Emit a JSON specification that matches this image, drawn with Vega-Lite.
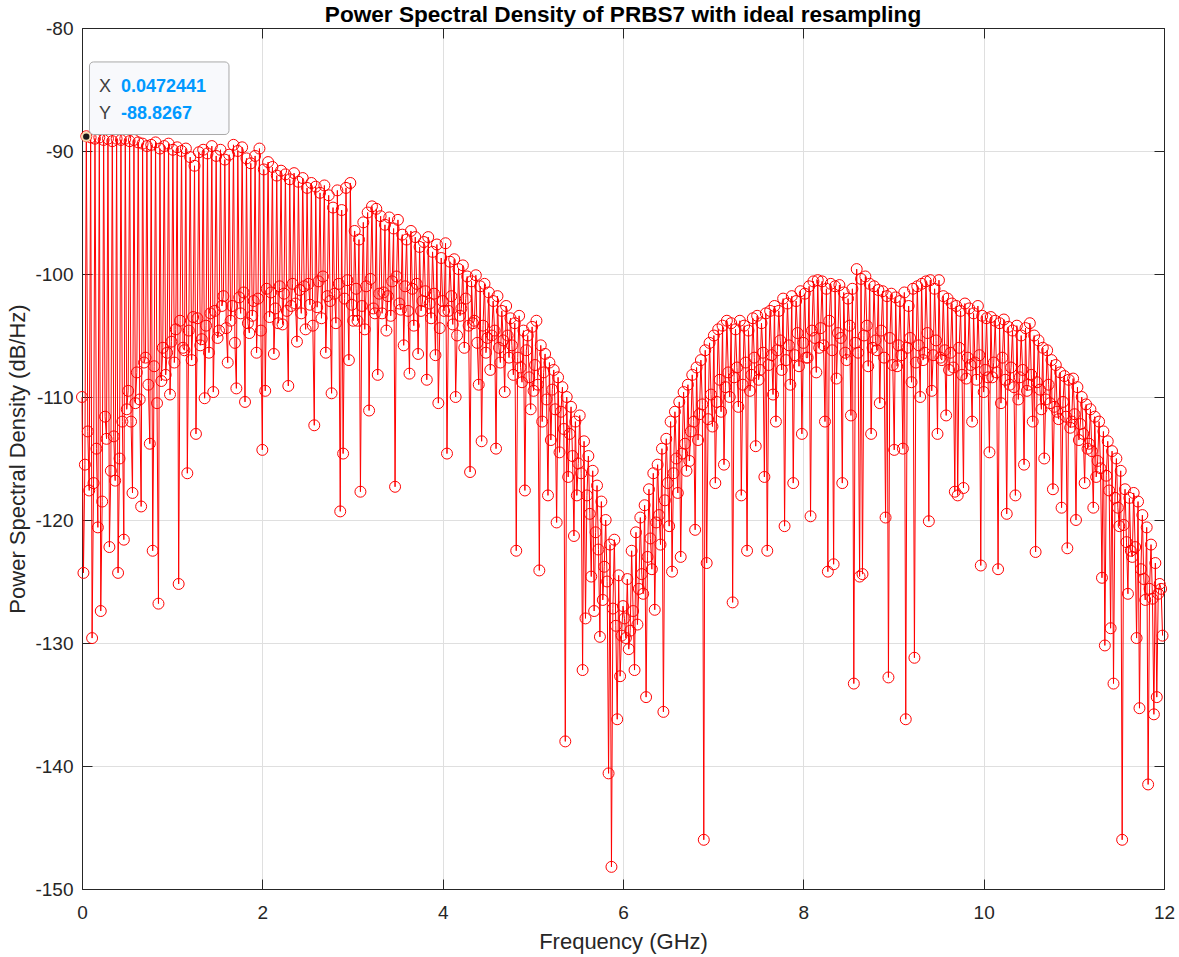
{
  "$schema": "https://vega.github.io/schema/vega-lite/v6.json",
  "width": 1082,
  "height": 861,
  "autosize": {"type": "none"},
  "padding": {"left": 82, "top": 28, "right": 15, "bottom": 68},
  "background": "white",
  "title": {
    "text": "Power Spectral Density of PRBS7 with ideal resampling",
    "font": "Liberation Sans",
    "fontSize": 22.6,
    "fontWeight": "bold",
    "color": "#000000",
    "anchor": "middle",
    "baseline": "alphabetic",
    "offset": -26
  },
  "config": {
    "view": {"stroke": "#262626", "strokeWidth": 1},
    "axis": {
      "labelFont": "Liberation Sans",
      "titleFont": "Liberation Sans",
      "labelFontSize": 19,
      "titleFontSize": 22,
      "titleFontWeight": "normal",
      "labelColor": "#262626",
      "titleColor": "#262626",
      "domainColor": "#262626",
      "tickColor": "#262626",
      "gridColor": "#dfdfdf",
      "gridOpacity": 1,
      "tickWidth": 1,
      "domainWidth": 1,
      "labelFlush": false,
      "labelOverlap": false,
      "labelBound": false
    }
  },
  "datasets": {
    "psd": [
      {"f":0,"p":-110.0},{"f":0.016,"p":-124.3},{"f":0.032,"p":-115.5},
      {"f":0.048,"p":-88.8},{"f":0.064,"p":-112.8},{"f":0.08,"p":-117.6},
      {"f":0.096,"p":-88.9},{"f":0.112,"p":-129.6},{"f":0.128,"p":-117.0},
      {"f":0.144,"p":-89.0},{"f":0.16,"p":-114.2},{"f":0.176,"p":-120.6},
      {"f":0.192,"p":-88.9},{"f":0.208,"p":-127.4},{"f":0.224,"p":-118.5},
      {"f":0.24,"p":-89.1},{"f":0.256,"p":-111.6},{"f":0.272,"p":-113.4},
      {"f":0.288,"p":-89.0},{"f":0.304,"p":-122.2},{"f":0.32,"p":-116.0},
      {"f":0.336,"p":-89.2},{"f":0.352,"p":-113.2},{"f":0.368,"p":-116.8},
      {"f":0.384,"p":-89.0},{"f":0.4,"p":-124.3},{"f":0.416,"p":-115.0},
      {"f":0.432,"p":-89.1},{"f":0.448,"p":-112.0},{"f":0.464,"p":-121.6},
      {"f":0.48,"p":-89.0},{"f":0.496,"p":-111.0},{"f":0.512,"p":-109.5},
      {"f":0.528,"p":-89.2},{"f":0.544,"p":-112.0},{"f":0.56,"p":-117.8},
      {"f":0.576,"p":-89.1},{"f":0.592,"p":-110.5},{"f":0.608,"p":-108.0},
      {"f":0.624,"p":-89.3},{"f":0.64,"p":-110.2},{"f":0.656,"p":-118.9},
      {"f":0.672,"p":-89.4},{"f":0.688,"p":-107.2},{"f":0.704,"p":-106.8},
      {"f":0.72,"p":-89.6},{"f":0.736,"p":-109.0},{"f":0.752,"p":-113.8},
      {"f":0.768,"p":-89.5},{"f":0.784,"p":-122.5},{"f":0.8,"p":-107.5},
      {"f":0.816,"p":-89.3},{"f":0.832,"p":-110.5},{"f":0.848,"p":-126.8},
      {"f":0.864,"p":-89.8},{"f":0.88,"p":-108.7},{"f":0.896,"p":-106.0},
      {"f":0.912,"p":-89.6},{"f":0.928,"p":-108.2},{"f":0.944,"p":-106.4},
      {"f":0.96,"p":-89.4},{"f":0.976,"p":-109.8},{"f":0.992,"p":-105.5},
      {"f":1.008,"p":-89.9},{"f":1.024,"p":-107.2},{"f":1.04,"p":-104.5},
      {"f":1.056,"p":-89.7},{"f":1.072,"p":-125.2},{"f":1.088,"p":-103.8},
      {"f":1.104,"p":-90.0},{"f":1.12,"p":-106.0},{"f":1.136,"p":-106.2},
      {"f":1.152,"p":-89.8},{"f":1.168,"p":-116.2},{"f":1.184,"p":-104.6},
      {"f":1.2,"p":-90.5},{"f":1.216,"p":-107.0},{"f":1.232,"p":-103.5},
      {"f":1.248,"p":-91.2},{"f":1.264,"p":-113.0},{"f":1.28,"p":-103.6},
      {"f":1.296,"p":-90.1},{"f":1.312,"p":-105.8},{"f":1.328,"p":-105.3},
      {"f":1.344,"p":-89.9},{"f":1.36,"p":-110.1},{"f":1.376,"p":-104.2},
      {"f":1.392,"p":-90.2},{"f":1.408,"p":-106.4},{"f":1.424,"p":-103.2},
      {"f":1.44,"p":-89.6},{"f":1.456,"p":-109.6},{"f":1.472,"p":-103.0},
      {"f":1.488,"p":-90.4},{"f":1.504,"p":-105.2},{"f":1.52,"p":-104.6},
      {"f":1.536,"p":-89.9},{"f":1.552,"p":-102.6},{"f":1.568,"p":-101.8},
      {"f":1.584,"p":-90.7},{"f":1.6,"p":-104.4},{"f":1.616,"p":-107.2},
      {"f":1.632,"p":-90.3},{"f":1.648,"p":-103.8},{"f":1.664,"p":-102.6},
      {"f":1.68,"p":-89.5},{"f":1.696,"p":-105.6},{"f":1.712,"p":-109.3},
      {"f":1.728,"p":-90.0},{"f":1.744,"p":-101.9},{"f":1.76,"p":-103.2},
      {"f":1.776,"p":-89.7},{"f":1.792,"p":-101.5},{"f":1.808,"p":-110.4},
      {"f":1.824,"p":-90.6},{"f":1.84,"p":-104.0},{"f":1.856,"p":-104.8},
      {"f":1.872,"p":-91.0},{"f":1.888,"p":-103.4},{"f":1.904,"p":-102.2},
      {"f":1.92,"p":-90.4},{"f":1.936,"p":-106.4},{"f":1.952,"p":-102.0},
      {"f":1.968,"p":-89.8},{"f":1.984,"p":-104.6},{"f":2.0,"p":-114.3},
      {"f":2.016,"p":-91.5},{"f":2.032,"p":-109.5},{"f":2.048,"p":-101.2},
      {"f":2.064,"p":-90.9},{"f":2.08,"p":-103.5},{"f":2.096,"p":-101.5},
      {"f":2.112,"p":-91.3},{"f":2.128,"p":-106.5},{"f":2.144,"p":-102.8},
      {"f":2.16,"p":-92.0},{"f":2.176,"p":-104.0},{"f":2.192,"p":-101.0},
      {"f":2.208,"p":-91.6},{"f":2.224,"p":-104.1},{"f":2.24,"p":-101.6},
      {"f":2.256,"p":-91.9},{"f":2.272,"p":-103.0},{"f":2.288,"p":-109.1},
      {"f":2.304,"p":-92.3},{"f":2.32,"p":-102.6},{"f":2.336,"p":-100.8},
      {"f":2.352,"p":-91.8},{"f":2.368,"p":-102.4},{"f":2.384,"p":-105.5},
      {"f":2.4,"p":-92.5},{"f":2.416,"p":-101.3},{"f":2.432,"p":-103.2},
      {"f":2.448,"p":-92.2},{"f":2.464,"p":-101.0},{"f":2.48,"p":-104.5},
      {"f":2.496,"p":-93.0},{"f":2.512,"p":-100.8},{"f":2.528,"p":-102.5},
      {"f":2.544,"p":-92.6},{"f":2.56,"p":-104.2},{"f":2.576,"p":-112.3},
      {"f":2.592,"p":-92.9},{"f":2.608,"p":-102.7},{"f":2.624,"p":-100.6},
      {"f":2.64,"p":-93.4},{"f":2.656,"p":-103.6},{"f":2.672,"p":-100.2},
      {"f":2.688,"p":-92.8},{"f":2.704,"p":-106.4},{"f":2.72,"p":-101.8},
      {"f":2.736,"p":-93.6},{"f":2.752,"p":-102.2},{"f":2.768,"p":-109.7},
      {"f":2.784,"p":-94.6},{"f":2.8,"p":-101.6},{"f":2.816,"p":-104.0},
      {"f":2.832,"p":-93.2},{"f":2.848,"p":-100.8},{"f":2.864,"p":-119.3},
      {"f":2.88,"p":-94.8},{"f":2.896,"p":-114.6},{"f":2.912,"p":-102.0},
      {"f":2.928,"p":-93.0},{"f":2.944,"p":-100.5},{"f":2.96,"p":-107.0},
      {"f":2.976,"p":-92.6},{"f":2.992,"p":-102.5},{"f":3.008,"p":-103.8},
      {"f":3.024,"p":-96.5},{"f":3.04,"p":-101.2},{"f":3.056,"p":-103.8},
      {"f":3.072,"p":-97.2},{"f":3.088,"p":-117.7},{"f":3.104,"p":-102.6},
      {"f":3.12,"p":-95.8},{"f":3.136,"p":-104.5},{"f":3.152,"p":-101.0},
      {"f":3.168,"p":-95.0},{"f":3.184,"p":-111.1},{"f":3.2,"p":-100.4},
      {"f":3.216,"p":-94.5},{"f":3.232,"p":-102.8},{"f":3.248,"p":-103.2},
      {"f":3.264,"p":-94.7},{"f":3.28,"p":-108.2},{"f":3.296,"p":-101.6},
      {"f":3.312,"p":-95.3},{"f":3.328,"p":-103.2},{"f":3.344,"p":-101.5},
      {"f":3.36,"p":-96.0},{"f":3.376,"p":-104.6},{"f":3.392,"p":-101.8},
      {"f":3.408,"p":-95.4},{"f":3.424,"p":-103.4},{"f":3.44,"p":-100.6},
      {"f":3.456,"p":-96.3},{"f":3.472,"p":-117.3},{"f":3.488,"p":-100.2},
      {"f":3.504,"p":-95.6},{"f":3.52,"p":-102.4},{"f":3.536,"p":-102.9},
      {"f":3.552,"p":-96.8},{"f":3.568,"p":-105.8},{"f":3.584,"p":-101.0},
      {"f":3.6,"p":-97.2},{"f":3.616,"p":-103.0},{"f":3.632,"p":-108.1},
      {"f":3.648,"p":-96.5},{"f":3.664,"p":-101.2},{"f":3.68,"p":-104.2},
      {"f":3.696,"p":-97.0},{"f":3.712,"p":-100.8},{"f":3.728,"p":-106.5},
      {"f":3.744,"p":-97.8},{"f":3.76,"p":-103.0},{"f":3.776,"p":-102.2},
      {"f":3.792,"p":-97.4},{"f":3.808,"p":-101.4},{"f":3.824,"p":-108.6},
      {"f":3.84,"p":-97.0},{"f":3.856,"p":-102.4},{"f":3.872,"p":-103.6},
      {"f":3.888,"p":-98.2},{"f":3.904,"p":-101.6},{"f":3.92,"p":-106.6},
      {"f":3.936,"p":-97.6},{"f":3.952,"p":-110.5},{"f":3.968,"p":-104.4},
      {"f":3.984,"p":-98.7},{"f":4.0,"p":-102.2},{"f":4.016,"p":-103.0},
      {"f":4.032,"p":-97.5},{"f":4.048,"p":-114.6},{"f":4.064,"p":-103.0},
      {"f":4.08,"p":-99.0},{"f":4.096,"p":-101.8},{"f":4.112,"p":-104.1},
      {"f":4.128,"p":-98.8},{"f":4.144,"p":-110.0},{"f":4.16,"p":-105.0},
      {"f":4.176,"p":-99.6},{"f":4.192,"p":-103.4},{"f":4.208,"p":-102.8},
      {"f":4.224,"p":-99.3},{"f":4.24,"p":-106.0},{"f":4.256,"p":-102.0},
      {"f":4.272,"p":-100.2},{"f":4.288,"p":-104.2},{"f":4.304,"p":-116.1},
      {"f":4.32,"p":-100.6},{"f":4.336,"p":-104.0},{"f":4.352,"p":-103.8},
      {"f":4.368,"p":-100.1},{"f":4.384,"p":-105.6},{"f":4.4,"p":-109.0},
      {"f":4.416,"p":-101.0},{"f":4.432,"p":-113.6},{"f":4.448,"p":-104.2},
      {"f":4.464,"p":-100.8},{"f":4.48,"p":-106.4},{"f":4.496,"p":-105.2},
      {"f":4.512,"p":-101.5},{"f":4.528,"p":-107.8},{"f":4.544,"p":-105.0},
      {"f":4.56,"p":-102.2},{"f":4.576,"p":-104.6},{"f":4.592,"p":-114.2},
      {"f":4.608,"p":-101.8},{"f":4.624,"p":-106.0},{"f":4.64,"p":-107.2},
      {"f":4.656,"p":-103.0},{"f":4.672,"p":-105.4},{"f":4.688,"p":-109.6},
      {"f":4.704,"p":-102.6},{"f":4.72,"p":-105.0},{"f":4.736,"p":-106.8},
      {"f":4.752,"p":-103.6},{"f":4.768,"p":-105.8},{"f":4.784,"p":-108.2},
      {"f":4.8,"p":-104.0},{"f":4.816,"p":-122.5},{"f":4.832,"p":-106.8},
      {"f":4.848,"p":-103.4},{"f":4.864,"p":-107.6},{"f":4.88,"p":-108.8},
      {"f":4.896,"p":-104.6},{"f":4.912,"p":-117.6},{"f":4.928,"p":-106.2},
      {"f":4.944,"p":-105.0},{"f":4.96,"p":-108.4},{"f":4.976,"p":-111.0},
      {"f":4.992,"p":-104.3},{"f":5.008,"p":-109.5},{"f":5.024,"p":-107.4},
      {"f":5.04,"p":-103.8},{"f":5.056,"p":-109.0},{"f":5.072,"p":-124.1},
      {"f":5.088,"p":-105.8},{"f":5.104,"p":-112.0},{"f":5.12,"p":-108.0},
      {"f":5.136,"p":-106.5},{"f":5.152,"p":-110.2},{"f":5.168,"p":-118.0},
      {"f":5.184,"p":-107.2},{"f":5.2,"p":-113.5},{"f":5.216,"p":-109.4},
      {"f":5.232,"p":-107.8},{"f":5.248,"p":-111.0},{"f":5.264,"p":-120.2},
      {"f":5.28,"p":-108.4},{"f":5.296,"p":-114.5},{"f":5.312,"p":-111.2},
      {"f":5.328,"p":-109.2},{"f":5.344,"p":-112.6},{"f":5.36,"p":-138.0},
      {"f":5.376,"p":-110.0},{"f":5.392,"p":-116.5},{"f":5.408,"p":-113.0},
      {"f":5.424,"p":-110.8},{"f":5.44,"p":-114.8},{"f":5.456,"p":-121.3},
      {"f":5.472,"p":-112.0},{"f":5.488,"p":-118.0},{"f":5.504,"p":-115.4},
      {"f":5.52,"p":-111.5},{"f":5.536,"p":-116.2},{"f":5.552,"p":-132.2},
      {"f":5.568,"p":-113.6},{"f":5.584,"p":-128.0},{"f":5.6,"p":-118.0},
      {"f":5.616,"p":-114.8},{"f":5.632,"p":-119.5},{"f":5.648,"p":-124.6},
      {"f":5.664,"p":-116.0},{"f":5.68,"p":-127.4},{"f":5.696,"p":-121.0},
      {"f":5.712,"p":-117.2},{"f":5.728,"p":-122.4},{"f":5.744,"p":-129.5},
      {"f":5.76,"p":-118.5},{"f":5.776,"p":-126.5},{"f":5.792,"p":-123.8},
      {"f":5.808,"p":-120.0},{"f":5.824,"p":-125.0},{"f":5.84,"p":-140.6},
      {"f":5.856,"p":-122.0},{"f":5.872,"p":-148.2},{"f":5.888,"p":-127.2},
      {"f":5.904,"p":-121.6},{"f":5.92,"p":-128.6},{"f":5.936,"p":-136.2},
      {"f":5.952,"p":-124.5},{"f":5.968,"p":-132.7},{"f":5.984,"p":-129.4},
      {"f":6.0,"p":-127.0},{"f":6.016,"p":-128.0},{"f":6.032,"p":-129.6},
      {"f":6.048,"p":-124.8},{"f":6.064,"p":-130.5},{"f":6.08,"p":-129.0},
      {"f":6.096,"p":-122.5},{"f":6.112,"p":-127.4},{"f":6.128,"p":-132.2},
      {"f":6.144,"p":-121.0},{"f":6.16,"p":-128.5},{"f":6.176,"p":-125.6},
      {"f":6.192,"p":-119.8},{"f":6.208,"p":-124.4},{"f":6.224,"p":-126.0},
      {"f":6.24,"p":-118.8},{"f":6.256,"p":-134.4},{"f":6.272,"p":-123.0},
      {"f":6.288,"p":-117.5},{"f":6.304,"p":-121.5},{"f":6.32,"p":-124.0},
      {"f":6.336,"p":-116.2},{"f":6.352,"p":-127.3},{"f":6.368,"p":-120.2},
      {"f":6.384,"p":-115.5},{"f":6.4,"p":-119.6},{"f":6.416,"p":-122.0},
      {"f":6.432,"p":-114.2},{"f":6.448,"p":-135.6},{"f":6.464,"p":-118.4},
      {"f":6.48,"p":-113.4},{"f":6.496,"p":-117.0},{"f":6.512,"p":-120.5},
      {"f":6.528,"p":-112.0},{"f":6.544,"p":-124.2},{"f":6.56,"p":-116.2},
      {"f":6.576,"p":-111.2},{"f":6.592,"p":-115.0},{"f":6.608,"p":-117.8},
      {"f":6.624,"p":-110.4},{"f":6.64,"p":-123.0},{"f":6.656,"p":-114.6},
      {"f":6.672,"p":-109.6},{"f":6.688,"p":-113.8},{"f":6.704,"p":-116.0},
      {"f":6.72,"p":-109.0},{"f":6.736,"p":-115.2},{"f":6.752,"p":-112.8},
      {"f":6.768,"p":-108.2},{"f":6.784,"p":-112.0},{"f":6.8,"p":-120.8},
      {"f":6.816,"p":-107.6},{"f":6.832,"p":-113.5},{"f":6.848,"p":-111.4},
      {"f":6.864,"p":-107.0},{"f":6.88,"p":-110.6},{"f":6.896,"p":-146.0},
      {"f":6.912,"p":-106.2},{"f":6.928,"p":-123.5},{"f":6.944,"p":-111.8},
      {"f":6.96,"p":-105.6},{"f":6.976,"p":-109.8},{"f":6.992,"p":-112.4},
      {"f":7.008,"p":-105.0},{"f":7.024,"p":-117.0},{"f":7.04,"p":-110.4},
      {"f":7.056,"p":-104.5},{"f":7.072,"p":-108.6},{"f":7.088,"p":-111.2},
      {"f":7.104,"p":-104.2},{"f":7.12,"p":-115.5},{"f":7.136,"p":-109.2},
      {"f":7.152,"p":-103.8},{"f":7.168,"p":-108.0},{"f":7.184,"p":-110.0},
      {"f":7.2,"p":-104.0},{"f":7.216,"p":-126.7},{"f":7.232,"p":-108.4},
      {"f":7.248,"p":-104.5},{"f":7.264,"p":-107.6},{"f":7.28,"p":-110.8},
      {"f":7.296,"p":-103.8},{"f":7.312,"p":-118.0},{"f":7.328,"p":-109.0},
      {"f":7.344,"p":-104.2},{"f":7.36,"p":-107.2},{"f":7.376,"p":-122.5},
      {"f":7.392,"p":-104.6},{"f":7.408,"p":-109.5},{"f":7.424,"p":-108.2},
      {"f":7.44,"p":-103.6},{"f":7.456,"p":-106.8},{"f":7.472,"p":-114.0},
      {"f":7.488,"p":-103.4},{"f":7.504,"p":-108.6},{"f":7.52,"p":-107.8},
      {"f":7.536,"p":-104.0},{"f":7.552,"p":-106.4},{"f":7.568,"p":-116.5},
      {"f":7.584,"p":-103.2},{"f":7.6,"p":-122.5},{"f":7.616,"p":-107.4},
      {"f":7.632,"p":-103.0},{"f":7.648,"p":-106.6},{"f":7.664,"p":-109.8},
      {"f":7.68,"p":-102.6},{"f":7.696,"p":-112.0},{"f":7.712,"p":-106.2},
      {"f":7.728,"p":-103.0},{"f":7.744,"p":-105.4},{"f":7.76,"p":-107.8},
      {"f":7.776,"p":-102.0},{"f":7.792,"p":-120.5},{"f":7.808,"p":-107.0},
      {"f":7.824,"p":-102.4},{"f":7.84,"p":-105.8},{"f":7.856,"p":-109.0},
      {"f":7.872,"p":-101.8},{"f":7.888,"p":-117.0},{"f":7.904,"p":-106.6},
      {"f":7.92,"p":-102.2},{"f":7.936,"p":-104.8},{"f":7.952,"p":-107.5},
      {"f":7.968,"p":-101.4},{"f":7.984,"p":-113.0},{"f":8.0,"p":-105.6},
      {"f":8.016,"p":-101.6},{"f":8.032,"p":-106.8},{"f":8.048,"p":-106.8},
      {"f":8.064,"p":-101.0},{"f":8.08,"p":-119.7},{"f":8.096,"p":-104.6},
      {"f":8.112,"p":-100.6},{"f":8.128,"p":-105.2},{"f":8.144,"p":-108.0},
      {"f":8.16,"p":-100.5},{"f":8.176,"p":-106.0},{"f":8.192,"p":-104.4},
      {"f":8.208,"p":-100.6},{"f":8.224,"p":-105.8},{"f":8.24,"p":-112.0},
      {"f":8.256,"p":-101.2},{"f":8.272,"p":-124.2},{"f":8.288,"p":-103.8},
      {"f":8.304,"p":-100.8},{"f":8.32,"p":-106.2},{"f":8.336,"p":-123.6},
      {"f":8.352,"p":-101.0},{"f":8.368,"p":-108.5},{"f":8.384,"p":-104.8},
      {"f":8.4,"p":-100.9},{"f":8.416,"p":-105.2},{"f":8.432,"p":-117.0},
      {"f":8.448,"p":-101.5},{"f":8.464,"p":-106.4},{"f":8.48,"p":-107.0},
      {"f":8.496,"p":-102.0},{"f":8.512,"p":-104.2},{"f":8.528,"p":-111.5},
      {"f":8.544,"p":-101.2},{"f":8.56,"p":-133.3},{"f":8.576,"p":-105.6},
      {"f":8.592,"p":-99.6},{"f":8.608,"p":-106.4},{"f":8.624,"p":-124.6},
      {"f":8.64,"p":-100.4},{"f":8.656,"p":-124.4},{"f":8.672,"p":-105.0},
      {"f":8.688,"p":-100.2},{"f":8.704,"p":-104.2},{"f":8.72,"p":-107.5},
      {"f":8.736,"p":-100.8},{"f":8.752,"p":-113.0},{"f":8.768,"p":-106.0},
      {"f":8.784,"p":-101.0},{"f":8.8,"p":-105.4},{"f":8.816,"p":-106.2},
      {"f":8.832,"p":-101.3},{"f":8.848,"p":-110.5},{"f":8.864,"p":-104.6},
      {"f":8.88,"p":-101.4},{"f":8.896,"p":-106.8},{"f":8.912,"p":-119.8},
      {"f":8.928,"p":-101.8},{"f":8.944,"p":-132.8},{"f":8.96,"p":-105.2},
      {"f":8.976,"p":-101.6},{"f":8.992,"p":-107.4},{"f":9.008,"p":-114.3},
      {"f":9.024,"p":-101.9},{"f":9.04,"p":-107.5},{"f":9.056,"p":-105.8},
      {"f":9.072,"p":-102.2},{"f":9.088,"p":-106.6},{"f":9.104,"p":-114.2},
      {"f":9.12,"p":-101.5},{"f":9.136,"p":-136.2},{"f":9.152,"p":-106.0},
      {"f":9.168,"p":-102.6},{"f":9.184,"p":-105.2},{"f":9.2,"p":-108.8},
      {"f":9.216,"p":-101.2},{"f":9.232,"p":-131.2},{"f":9.248,"p":-107.2},
      {"f":9.264,"p":-101.0},{"f":9.28,"p":-105.8},{"f":9.296,"p":-110.0},
      {"f":9.312,"p":-100.8},{"f":9.328,"p":-107.0},{"f":9.344,"p":-106.4},
      {"f":9.36,"p":-100.6},{"f":9.376,"p":-104.8},{"f":9.392,"p":-120.1},
      {"f":9.408,"p":-100.5},{"f":9.424,"p":-109.5},{"f":9.44,"p":-106.6},
      {"f":9.456,"p":-101.2},{"f":9.472,"p":-105.4},{"f":9.488,"p":-113.0},
      {"f":9.504,"p":-100.5},{"f":9.52,"p":-106.8},{"f":9.536,"p":-107.0},
      {"f":9.552,"p":-101.8},{"f":9.568,"p":-106.2},{"f":9.584,"p":-111.5},
      {"f":9.6,"p":-102.0},{"f":9.616,"p":-107.8},{"f":9.632,"p":-106.4},
      {"f":9.648,"p":-102.4},{"f":9.664,"p":-107.6},{"f":9.68,"p":-117.7},
      {"f":9.696,"p":-102.6},{"f":9.712,"p":-118.0},{"f":9.728,"p":-106.0},
      {"f":9.744,"p":-103.0},{"f":9.76,"p":-108.2},{"f":9.776,"p":-117.4},
      {"f":9.792,"p":-102.4},{"f":9.808,"p":-108.5},{"f":9.824,"p":-106.8},
      {"f":9.84,"p":-102.8},{"f":9.856,"p":-107.4},{"f":9.872,"p":-112.0},
      {"f":9.888,"p":-103.2},{"f":9.904,"p":-107.2},{"f":9.92,"p":-108.6},
      {"f":9.936,"p":-102.6},{"f":9.952,"p":-106.6},{"f":9.968,"p":-123.7},
      {"f":9.984,"p":-103.4},{"f":10.0,"p":-109.6},{"f":10.016,"p":-107.8},
      {"f":10.032,"p":-103.6},{"f":10.048,"p":-108.4},{"f":10.064,"p":-114.5},
      {"f":10.08,"p":-103.5},{"f":10.096,"p":-108.4},{"f":10.112,"p":-107.2},
      {"f":10.128,"p":-103.8},{"f":10.144,"p":-108.0},{"f":10.16,"p":-124.0},
      {"f":10.176,"p":-104.0},{"f":10.192,"p":-110.5},{"f":10.208,"p":-106.8},
      {"f":10.224,"p":-103.7},{"f":10.24,"p":-108.6},{"f":10.256,"p":-119.5},
      {"f":10.272,"p":-104.3},{"f":10.288,"p":-109.0},{"f":10.304,"p":-107.6},
      {"f":10.32,"p":-104.6},{"f":10.336,"p":-109.2},{"f":10.352,"p":-118.0},
      {"f":10.368,"p":-104.2},{"f":10.384,"p":-110.2},{"f":10.4,"p":-108.4},
      {"f":10.416,"p":-105.0},{"f":10.432,"p":-107.8},{"f":10.448,"p":-115.5},
      {"f":10.464,"p":-104.4},{"f":10.48,"p":-109.5},{"f":10.496,"p":-109.0},
      {"f":10.512,"p":-104.0},{"f":10.528,"p":-108.2},{"f":10.544,"p":-112.0},
      {"f":10.56,"p":-105.0},{"f":10.576,"p":-122.6},{"f":10.592,"p":-108.8},
      {"f":10.608,"p":-105.4},{"f":10.624,"p":-109.4},{"f":10.64,"p":-111.0},
      {"f":10.656,"p":-106.0},{"f":10.672,"p":-115.0},{"f":10.688,"p":-110.2},
      {"f":10.704,"p":-106.2},{"f":10.72,"p":-109.0},{"f":10.736,"p":-110.5},
      {"f":10.752,"p":-107.0},{"f":10.768,"p":-117.5},{"f":10.784,"p":-110.8},
      {"f":10.8,"p":-107.4},{"f":10.816,"p":-111.2},{"f":10.832,"p":-111.8},
      {"f":10.848,"p":-108.0},{"f":10.864,"p":-119.0},{"f":10.88,"p":-110.4},
      {"f":10.896,"p":-108.3},{"f":10.912,"p":-111.6},{"f":10.928,"p":-122.3},
      {"f":10.944,"p":-108.6},{"f":10.96,"p":-112.5},{"f":10.976,"p":-112.0},
      {"f":10.992,"p":-108.5},{"f":11.008,"p":-111.4},{"f":11.024,"p":-120.0},
      {"f":11.04,"p":-109.2},{"f":11.056,"p":-113.5},{"f":11.072,"p":-112.2},
      {"f":11.088,"p":-110.0},{"f":11.104,"p":-113.0},{"f":11.12,"p":-117.0},
      {"f":11.136,"p":-110.6},{"f":11.152,"p":-114.2},{"f":11.168,"p":-113.8},
      {"f":11.184,"p":-111.0},{"f":11.2,"p":-114.4},{"f":11.216,"p":-119.0},
      {"f":11.232,"p":-111.6},{"f":11.248,"p":-116.5},{"f":11.264,"p":-115.2},
      {"f":11.28,"p":-112.0},{"f":11.296,"p":-115.8},{"f":11.312,"p":-124.7},
      {"f":11.328,"p":-112.8},{"f":11.344,"p":-130.2},{"f":11.36,"p":-116.4},
      {"f":11.376,"p":-113.6},{"f":11.392,"p":-117.6},{"f":11.408,"p":-128.8},
      {"f":11.424,"p":-114.4},{"f":11.44,"p":-133.3},{"f":11.456,"p":-118.2},
      {"f":11.472,"p":-115.0},{"f":11.488,"p":-119.0},{"f":11.504,"p":-120.5},
      {"f":11.52,"p":-116.0},{"f":11.536,"p":-146.0},{"f":11.552,"p":-120.4},
      {"f":11.568,"p":-117.5},{"f":11.584,"p":-121.8},{"f":11.6,"p":-126.0},
      {"f":11.616,"p":-118.2},{"f":11.632,"p":-122.5},{"f":11.648,"p":-123.0},
      {"f":11.664,"p":-117.8},{"f":11.68,"p":-122.2},{"f":11.696,"p":-129.6},
      {"f":11.712,"p":-118.5},{"f":11.728,"p":-135.3},{"f":11.744,"p":-124.0},
      {"f":11.76,"p":-119.6},{"f":11.776,"p":-124.8},{"f":11.792,"p":-126.5},
      {"f":11.808,"p":-120.6},{"f":11.824,"p":-141.5},{"f":11.84,"p":-125.6},
      {"f":11.856,"p":-122.0},{"f":11.872,"p":-126.4},{"f":11.888,"p":-135.8},
      {"f":11.904,"p":-123.5},{"f":11.92,"p":-134.4},{"f":11.936,"p":-126.0},
      {"f":11.952,"p":-125.2},{"f":11.968,"p":-125.6},{"f":11.984,"p":-129.4}
    ],
    "tipbox": [{"x1": 0.083, "x2": 1.63, "y1": -82.76, "y2": -88.66}],
    "tiplabels": [
      {"tx": 0.1885, "ty": -85.23, "t": "X"},
      {"tx": 0.1885, "ty": -87.40, "t": "Y"}
    ],
    "tipvalues": [
      {"tx": 0.4325, "ty": -85.23, "t": "0.0472441"},
      {"tx": 0.4325, "ty": -87.40, "t": "-88.8267"}
    ],
    "tippoint": [{"f": 0.0472441, "p": -88.8267}]
  },
  "layer": [
    {
      "data": {"name": "psd"},
      "mark": {"type": "line", "color": "#ff0000", "strokeWidth": 1},
      "encoding": {
        "x": {
          "field": "f", "type": "quantitative",
          "scale": {"domain": [0, 12], "nice": false, "zero": false},
          "axis": {
            "orient": "bottom",
            "values": [0, 2, 4, 6, 8, 10, 12],
            "grid": true,
            "tickSize": -10,
            "labelPadding": 24,
            "labelExpr": "'' + datum.value",
            "title": "Frequency (GHz)",
            "titlePadding": 9
          }
        },
        "y": {
          "field": "p", "type": "quantitative",
          "scale": {"domain": [-150, -80], "nice": false, "zero": false},
          "axis": {
            "orient": "left",
            "values": [-150, -140, -130, -120, -110, -100, -90, -80],
            "grid": true,
            "tickSize": -10,
            "labelPadding": 19,
            "labelExpr": "'' + datum.value",
            "title": "Power Spectral Density (dB/Hz)",
            "titlePadding": 5
          }
        }
      }
    },
    {
      "data": {"name": "psd"},
      "mark": {"type": "point", "shape": "circle", "filled": false, "color": "#ff0000", "size": 120, "strokeWidth": 1, "opacity": 1},
      "encoding": {
        "x": {
          "field": "f", "type": "quantitative",
          "axis": {"orient": "top", "values": [0, 2, 4, 6, 8, 10, 12], "labels": false, "grid": false, "tickSize": -10, "title": null}
        },
        "y": {
          "field": "p", "type": "quantitative",
          "axis": {"orient": "right", "values": [-150, -140, -130, -120, -110, -100, -90, -80], "labels": false, "grid": false, "tickSize": -10, "title": null}
        }
      }
    },
    {
      "data": {"name": "tipbox"},
      "mark": {"type": "rect", "fill": "#f8f9fc", "stroke": "#a9a9a9", "strokeWidth": 1, "cornerRadius": 4},
      "encoding": {
        "x": {"field": "x1", "type": "quantitative", "axis": null},
        "x2": {"field": "x2"},
        "y": {"field": "y1", "type": "quantitative", "axis": null},
        "y2": {"field": "y2"}
      }
    },
    {
      "data": {"name": "tiplabels"},
      "mark": {"type": "text", "align": "left", "baseline": "alphabetic", "font": "Liberation Sans", "fontSize": 18, "color": "#404040"},
      "encoding": {
        "x": {"field": "tx", "type": "quantitative", "axis": null},
        "y": {"field": "ty", "type": "quantitative", "axis": null},
        "text": {"field": "t"}
      }
    },
    {
      "data": {"name": "tipvalues"},
      "mark": {"type": "text", "align": "left", "baseline": "alphabetic", "font": "Liberation Sans", "fontSize": 18, "fontWeight": "bold", "color": "#0099ff"},
      "encoding": {
        "x": {"field": "tx", "type": "quantitative", "axis": null},
        "y": {"field": "ty", "type": "quantitative", "axis": null},
        "text": {"field": "t"}
      }
    },
    {
      "data": {"name": "tippoint"},
      "mark": {"type": "point", "shape": "circle", "filled": true, "fill": "#1a1a1a", "stroke": "#f7dcb0", "strokeWidth": 2, "size": 70, "opacity": 1},
      "encoding": {
        "x": {"field": "f", "type": "quantitative", "axis": null},
        "y": {"field": "p", "type": "quantitative", "axis": null}
      }
    }
  ],
  "resolve": {"axis": {"x": "independent", "y": "independent"}}
}
